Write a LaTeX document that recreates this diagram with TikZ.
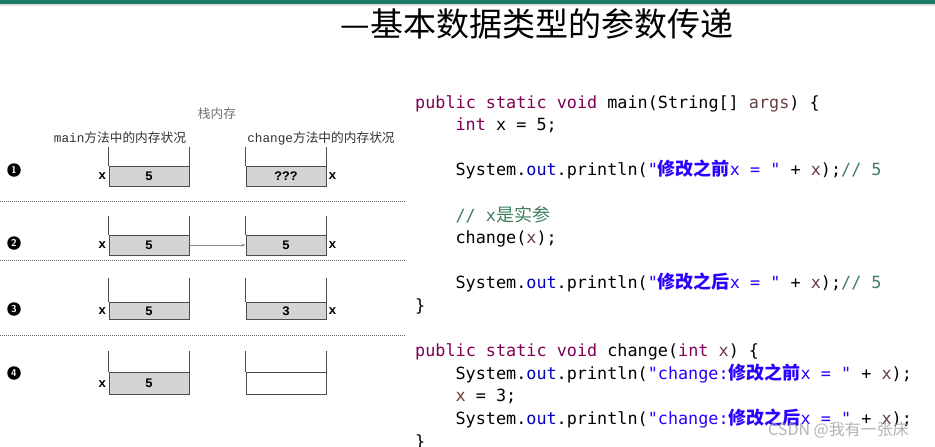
\documentclass[tikz,border=0pt]{standalone}
\usepackage{fontspec}
\newfontfamily\cjk{Noto Sans CJK SC}
\newfontfamily\codef{DejaVu Sans Mono}
\newfontfamily\monof{Liberation Mono}
\usetikzlibrary{arrows.meta}
\definecolor{jkwc}{HTML}{7F0055}
\definecolor{jvarc}{HTML}{6A3E3E}
\definecolor{jfldc}{HTML}{0000C0}
\definecolor{jstrc}{HTML}{2A00FF}
\definecolor{jcmtc}{HTML}{3F7F5F}
\definecolor{topbar}{RGB}{24,122,100}
\newcommand\jkw[1]{\textcolor{jkwc}{#1}}
\newcommand\jvar[1]{\textcolor{jvarc}{#1}}
\newcommand\jfld[1]{\textcolor{jfldc}{#1}}
\newcommand\jstr[1]{\textcolor{jstrc}{#1}}
\newcommand\jcmt[1]{\textcolor{jcmtc}{#1}}
\newcommand\jzh[1]{{\cjk\bfseries\fontsize{18}{20}\selectfont\color{jstrc}#1}}
\begin{document}
\begin{tikzpicture}[x=1pt,y=-1pt,
  cell/.style={draw=black!70, line width=1pt, fill=black!17, minimum width=80pt, inner sep=0pt, font=\monof\bfseries\fontsize{13}{13}\selectfont},
  wall/.style={draw=black!70, line width=1pt},
  num/.style={circle, fill=black, text=white, inner sep=0pt, minimum size=13.5pt, font=\sffamily\bfseries\fontsize{10}{10}\selectfont},
  xlab/.style={font=\monof\bfseries\fontsize{13}{13}\selectfont, inner sep=2pt},
  sep/.style={draw=black!60, line width=0.8pt, dash pattern=on 1pt off 1pt},
  hdr/.style={font=\cjk\fontsize{12.7}{13}\selectfont, text=black!80, inner sep=0pt},
  code/.style={anchor=base west, inner sep=0pt, font=\codef\fontsize{16.8}{20}\selectfont}]
\useasboundingbox (0,0) rectangle (935,447);
\clip (0,0) rectangle (935,447);
\fill[white] (0,0) rectangle (935,447);
% top bar
\fill[topbar] (0,0) rectangle (935,3.5);
\fill[black!12] (0,3.5) rectangle (935,6);
% title
\node[font=\cjk\fontsize{33}{33}\selectfont, inner sep=0pt] (title) at (537,24) {—基本数据类型的参数传递};
% headers
\node[hdr, text=black!55] (stack) at (217,114) {栈内存};
\node[hdr] (hm) at (120,138) {{\monof main}方法中的内存状况};
\node[hdr] (hc) at (321,138) {{\monof change}方法中的内存状况};
% cells
\node[cell, minimum height=20pt] (L1) at (149,176) {5};
\node[cell, minimum height=20pt] (R1) at (286,176) {???};
\node[cell, minimum height=20pt] (L2) at (149,245) {5};
\node[cell, minimum height=20pt] (R2) at (286,245) {5};
\node[cell, minimum height=16.6pt] (L3) at (149,311) {5};
\node[cell, minimum height=16.6pt] (R3) at (286,311) {3};
\node[cell, minimum height=22.7pt] (L4) at (149,383.6) {5};
\node[cell, minimum height=22.7pt, fill=white] (R4) at (286,383.6) {};
\foreach \n/\e in {L1/19,R1/19,L2/19,R2/19,L3/24,R3/24,L4/20.6,R4/20.6}{
  \draw[wall] ([yshift=\e pt]\n.north west) -- (\n.north west)
              ([yshift=\e pt]\n.north east) -- (\n.north east);
}
% x labels
\node[xlab, anchor=east] (xl1) at (L1.west) {x};
\node[xlab, anchor=west] (xr1) at (R1.east) {x};
\node[xlab, anchor=east] (xl2) at (L2.west) {x};
\node[xlab, anchor=west] (xr2) at (R2.east) {x};
\node[xlab, anchor=east] (xl3) at (L3.west) {x};
\node[xlab, anchor=west] (xr3) at (R3.east) {x};
\node[xlab, anchor=east] (xl4) at (L4.west) {x};
% arrow
\draw[-{Stealth[length=4pt,width=3pt]}, draw=black!45, line width=0.8pt] (L2.east) -- (R2.west);
% step numbers
\node[num] (n1) at (14,170) {1};
\node[num] (n2) at (14,243) {2};
\node[num] (n3) at (14,309) {3};
\node[num] (n4) at (14,373) {4};
% separators
\draw[sep] (0,201) -- (405,201);
\draw[sep] (0,260) -- (405,260);
\draw[sep] (0,335) -- (405,335);
% code
\node[code] (c1) at (415,108) {\jkw{public static void} main(String[] \jvar{args}) \{};
\node[code] (c2) at (455.4,130.6) {\jkw{int} x = 5;};
\node[code] (c4) at (455.4,175.8) {System.\jfld{out}.println(\jstr{"\jzh{修改之前}x = "} + \jvar{x});\jcmt{// 5}};
\node[code] (c6) at (455.4,221) {\jcmt{// x{\cjk\fontsize{18}{20}\selectfont 是实参}}};
\node[code] (c7) at (455.4,243.6) {change(\jvar{x});};
\node[code] (c9) at (455.4,288.8) {System.\jfld{out}.println(\jstr{"\jzh{修改之后}x = "} + \jvar{x});\jcmt{// 5}};
\node[code] (c10) at (415,311.4) {\}};
\node[code] (c12) at (415,356.6) {\jkw{public static void} change(\jkw{int} \jvar{x}) \{};
\node[code] (c13) at (455.4,379.2) {System.\jfld{out}.println(\jstr{"change:\jzh{修改之前}x = "} + \jvar{x});};
\node[code] (c14) at (455.4,401.8) {\jvar{x} = 3;};
\node[code] (c15) at (455.4,424.4) {System.\jfld{out}.println(\jstr{"change:\jzh{修改之后}x = "} + \jvar{x});};
\node[code] (c16) at (415,447) {\}};
% watermark
\node[font=\cjk\fontsize{16}{16}\selectfont, text=black!35, opacity=0.85, anchor=east, inner sep=0pt] (wm) at (909,430) {CSDN @我有一张床};
\end{tikzpicture}
\end{document}
